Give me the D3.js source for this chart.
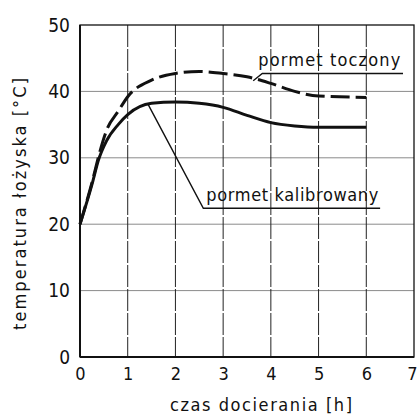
<!DOCTYPE html>
<html>
<head>
<meta charset="utf-8">
<script src="https://cdn.jsdelivr.net/npm/d3@7"></script>
<style>
  html, body { margin: 0; padding: 0; background: #fff; }
  svg { display: block; }
  text { font-family: "DejaVu Sans Condensed", "DejaVu Sans", sans-serif; fill: #111; }
</style>
</head>
<body>
<svg id="chart" width="420" height="417"></svg>
<script>
// Running-in time [h] and bearing temperature [°C]
const xTicks = [0, 1, 2, 3, 4, 5, 6, 7];
const yTicks = [0, 10, 20, 30, 40, 50];

const kalibrowanyTime = [0, 0.27, 0.38, 0.56, 0.8, 1, 1.5, 2, 2.5, 3, 3.5, 4, 4.5, 5, 6];
const kalibrowanyTemp = [20, 26.5, 29.5, 32.6, 35, 36.5, 38.2, 38.4, 38.2, 37.6, 36.4, 35.3, 34.8, 34.6, 34.6];

const toczonyTime = [0, 0.27, 0.4, 0.56, 0.8, 1, 1.5, 2, 2.5, 3, 3.5, 4, 4.5, 5, 6];
const toczonyTemp = [20, 26.8, 30.5, 34.2, 37, 39.2, 41.7, 42.7, 43, 42.7, 42.2, 41.2, 40, 39.3, 39.1];

const xTitle = "czas docierania [h]";
const yTitle = "temperatura łożyska [°C]";

// Label annotations: leader start on curve, bend point, end of underline (data units)
const labelToczony = { text: "pormet toczony", from: [3.63, 41.6], bend: [3.82, 42.7], end: [6.77, 42.7] };
const labelKalibrowany = { text: "pormet kalibrowany", from: [1.43, 38.0], bend: [2.585, 22.4], end: [6.29, 22.4] };

const svg = d3.select("#chart");
const x = d3.scaleLinear().domain([0, 7]).range([80, 414]);
const y = d3.scaleLinear().domain([0, 50]).range([357, 25]);

// horizontal grid
svg.append("g").selectAll("line")
  .data(yTicks.filter(v => v > 0 && v < 50))
  .join("line")
  .attr("x1", x(0)).attr("x2", x(7))
  .attr("y1", d => y(d)).attr("y2", d => y(d))
  .attr("stroke", "#8a8a8a").attr("stroke-width", 1);

// vertical grid (dashed, dark)
svg.append("g").selectAll("line")
  .data(xTicks.filter(v => v > 0 && v < 7))
  .join("line")
  .attr("x1", d => x(d)).attr("x2", d => x(d))
  .attr("y1", y(50)).attr("y2", y(0))
  .attr("stroke", "#222").attr("stroke-width", 1)
  .attr("stroke-dasharray", "22,2");

// frame
svg.append("rect")
  .attr("x", x(0)).attr("y", y(50))
  .attr("width", x(7) - x(0)).attr("height", y(0) - y(50))
  .attr("fill", "none").attr("stroke", "#111").attr("stroke-width", 1.3);
svg.append("line").attr("x1", x(0)).attr("x2", x(0)).attr("y1", y(50)).attr("y2", y(0))
  .attr("stroke", "#111").attr("stroke-width", 2);
svg.append("line").attr("x1", x(0)).attr("x2", x(7)).attr("y1", y(0)).attr("y2", y(0))
  .attr("stroke", "#111").attr("stroke-width", 2);

// axes (labels only, ticks come from the grid)
const xAxis = d3.axisBottom(x).tickValues(xTicks).tickFormat(d3.format("d")).tickSize(0).tickPadding(10);
const gx = svg.append("g").attr("transform", `translate(0,${y(0)})`).call(xAxis);
gx.select(".domain").remove();
gx.selectAll("text").attr("font-size", 18).style("font-family", null);
gx.selectAll(".tick").filter(d => d === 7).select("text").attr("dx", -2);

const yAxis = d3.axisLeft(y).tickValues(yTicks).tickFormat(d3.format("d")).tickSize(0).tickPadding(10);
const gy = svg.append("g").attr("transform", `translate(${x(0)},0)`).call(yAxis);
gy.select(".domain").remove();
gy.selectAll("text").attr("font-size", 19).style("font-family", null);

// axis titles
svg.append("text")
  .attr("x", 261).attr("y", 411)
  .attr("text-anchor", "middle").attr("font-size", 18)
  .attr("textLength", 182).attr("lengthAdjust", "spacing")
  .text(xTitle);
svg.append("text")
  .attr("transform", "translate(26,204) rotate(-90)")
  .attr("text-anchor", "middle").attr("font-size", 18)
  .attr("textLength", 252).attr("lengthAdjust", "spacing")
  .text(yTitle);

// curves
const line = d3.line().x(d => x(d[0])).y(d => y(d[1])).curve(d3.curveMonotoneX);
svg.append("path")
  .datum(d3.zip(kalibrowanyTime, kalibrowanyTemp))
  .attr("d", line).attr("fill", "none")
  .attr("stroke", "#111").attr("stroke-width", 3);
svg.append("path")
  .datum(d3.zip(toczonyTime, toczonyTemp))
  .attr("d", line).attr("fill", "none")
  .attr("stroke", "#111").attr("stroke-width", 3)
  .attr("stroke-dasharray", "19,6");

// labels with leader lines
function annotate(lbl, textWidth, dx) {
  const pts = [lbl.from, lbl.bend, lbl.end].map(p => [x(p[0]), y(p[1])]);
  svg.append("path")
    .attr("d", d3.line()(pts))
    .attr("fill", "none").attr("stroke", "#111").attr("stroke-width", 1.4);
  svg.append("text")
    .attr("x", pts[1][0] + dx).attr("y", pts[1][1] - 7)
    .attr("font-size", 18)
    .attr("textLength", textWidth).attr("lengthAdjust", "spacing")
    .text(lbl.text);
}
annotate(labelToczony, 142, -4);
annotate(labelKalibrowany, 172, 3);
</script>
</body>
</html>
